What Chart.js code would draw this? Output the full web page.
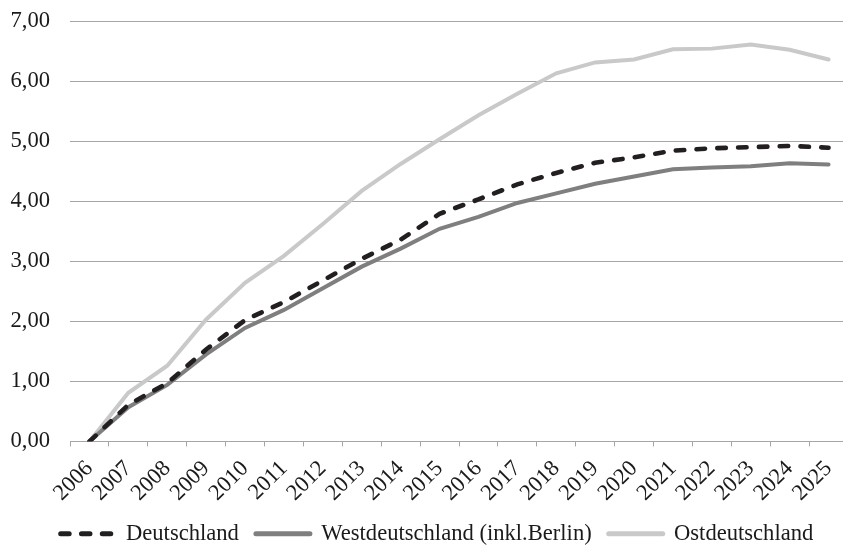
<!DOCTYPE html>
<html>
<head>
<meta charset="utf-8">
<script src="https://cdn.jsdelivr.net/npm/chart.js@4"></script>
<style>
  html, body { margin: 0; padding: 0; background: #fff; overflow: hidden; }
  #wrap { position: relative; width: 848px; height: 555px; }
</style>
</head>
<body>
<div id="wrap"><canvas id="chart"></canvas></div>
<script>
// categories
const years = ["2006", "2007", "2008", "2009", "2010", "2011", "2012", "2013", "2014", "2015",
               "2016", "2017", "2018", "2019", "2020", "2021", "2022", "2023", "2024", "2025"];

// series values
const deutschland = [0, 0.61, 0.97, 1.53, 2.02, 2.32, 2.68, 3.04, 3.36, 3.79,
                     4.03, 4.28, 4.47, 4.64, 4.73, 4.84, 4.88, 4.90, 4.92, 4.89];
const westdeutschland = [0, 0.57, 0.94, 1.45, 1.89, 2.19, 2.55, 2.91, 3.21, 3.54,
                         3.74, 3.97, 4.13, 4.29, 4.41, 4.53, 4.56, 4.58, 4.63, 4.61];
const ostdeutschland = [0, 0.81, 1.26, 2.03, 2.64, 3.09, 3.62, 4.17, 4.62, 5.03,
                        5.43, 5.79, 6.13, 6.31, 6.36, 6.53, 6.54, 6.61, 6.52, 6.36];

// y tick labels
const yTickLabels = ["0,00", "1,00", "2,00", "3,00", "4,00", "5,00", "6,00", "7,00"];

const textColor = '#1a1a1a';
const gridColor = '#a6a6a6';
const font = { family: "'Liberation Serif', 'Times New Roman', serif", size: 22.6 };

// nudge legend a bit to the right, like the original
const legendShift = {
  id: 'legendShift',
  afterLayout(chart) {
    if (chart.legend) {
      chart.legend.left += 8;
      chart.legend.right += 8;
    }
  }
};

const ctx = document.getElementById('chart').getContext('2d');
new Chart(ctx, {
  type: 'line',
  data: {
    labels: years,
    datasets: [
      {
        label: 'Deutschland',
        data: deutschland,
        borderColor: '#231f20',
        backgroundColor: '#231f20',
        borderWidth: 4.6,
        borderDash: [8.5, 12.3],
        borderCapStyle: 'round',
        pointRadius: 0,
        tension: 0
      },
      {
        label: 'Westdeutschland (inkl.Berlin)',
        data: westdeutschland,
        borderColor: '#7f7f7f',
        backgroundColor: '#7f7f7f',
        borderWidth: 4,
        borderCapStyle: 'round',
        pointRadius: 0,
        tension: 0
      },
      {
        label: 'Ostdeutschland',
        data: ostdeutschland,
        borderColor: '#c9c9c9',
        backgroundColor: '#c9c9c9',
        borderWidth: 4,
        borderCapStyle: 'round',
        pointRadius: 0,
        tension: 0
      }
    ]
  },
  options: {
    responsive: true,
    maintainAspectRatio: false,
    animation: false,
    layout: { padding: { left: 10, top: 21, right: 0, bottom: 0 } },
    plugins: {
      title: { display: false },
      tooltip: { enabled: false },
      legend: {
        display: true,
        position: 'bottom',
        labels: {
          font: font,
          color: textColor,
          usePointStyle: true,
          pointStyle: 'line',
          pointStyleWidth: 54,
          boxHeight: 22,
          padding: 17,
          // point style legend items lose the dataset dash, so copy it back
          generateLabels(chart) {
            const items = Chart.defaults.plugins.legend.labels.generateLabels(chart);
            items.forEach(item => {
              const ds = chart.data.datasets[item.datasetIndex];
              item.lineDash = ds.borderDash || [];
              item.lineCap = 'round';
              item.lineWidth = 5;
              item.strokeStyle = ds.borderColor;
            });
            return items;
          }
        }
      }
    },
    scales: {
      x: {
        offset: true,
        grid: {
          offset: true,
          drawOnChartArea: false,
          drawTicks: true,
          tickLength: 5,
          color: gridColor
        },
        border: { display: true, color: gridColor, width: 1 },
        ticks: {
          autoSkip: false,
          minRotation: 45,
          maxRotation: 45,
          padding: 9,
          font: font,
          color: textColor
        },
        afterFit(scale) {
          scale.height = 64;
          scale.paddingLeft = 0;
          scale.paddingRight = 0;
        }
      },
      y: {
        min: 0,
        max: 7,
        grid: { color: gridColor, drawTicks: false, lineWidth: 1 },
        border: { display: false },
        ticks: {
          stepSize: 1,
          padding: 20,
          font: font,
          color: textColor,
          callback: (value, index) => yTickLabels[index]
        },
        afterFit(scale) {
          scale.width = 60;
          // tick padding should not push the plot down
          scale.paddingTop = 12;
          scale.paddingBottom = 12;
        }
      }
    }
  },
  plugins: [legendShift]
});
</script>
</body>
</html>
